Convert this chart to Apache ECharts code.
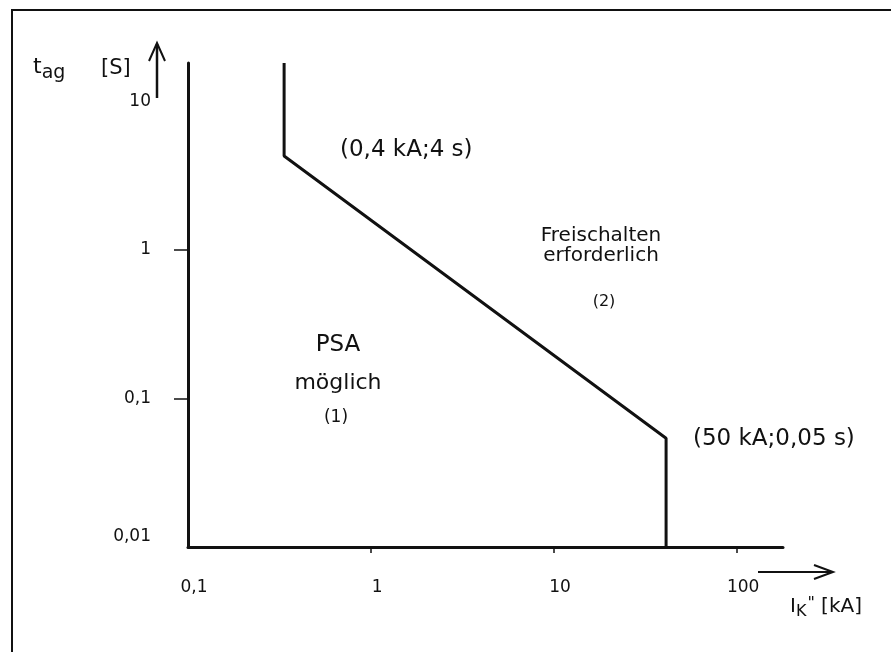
<!DOCTYPE html>
<html>
<head>
<meta charset="utf-8">
<script src="https://cdn.jsdelivr.net/npm/echarts@6/dist/echarts.min.js"></script>
<style>
  html, body { margin: 0; padding: 0; background: #fff; }
  #chart { width: 891px; height: 652px; }
</style>
</head>
<body>
<div id="chart"></div>
<script>
// Grenzkurve: Kurzschlussstrom Ik" [kA] gegen Abschaltzeit tag [s]
const currentKA = [0.335, 0.335, 40.9, 40.9]
const timeS = [18.2, 4.3, 0.054, 0.01]

// Achsenbeschriftung
const xTickValues = [1, 10, 100]
const xLabelValues = [0.1, 1, 10, 100]
const yTickValues = [0.1, 1]
const yLabelValues = [0.01, 0.1, 1, 10]

const FONT = '"DejaVu Sans", sans-serif'
const fmt = v => String(v).replace('.', ',')

const chart = echarts.init(document.getElementById('chart'))

const option = {
  backgroundColor: '#fff',
  animation: false,
  grid: { left: 188, right: 108, top: 63, bottom: 105 },
  xAxis: {
    type: 'log',
    min: 0.1,
    max: 178,
    axisLine: { lineStyle: { color: '#111', width: 3 } },
    axisTick: { show: true, customValues: xTickValues, length: 6, lineStyle: { color: '#111', width: 1.5 } },
    axisLabel: {
      customValues: xLabelValues,
      formatter: fmt,
      margin: 32,
      padding: [0, 0, 0, 12],
      color: '#111',
      fontSize: 17,
      fontFamily: FONT
    },
    splitLine: { show: false },
    minorTick: { show: false }
  },
  yAxis: {
    type: 'log',
    min: 0.01,
    max: 18.2,
    axisLine: { lineStyle: { color: '#111', width: 3 } },
    axisTick: { show: true, customValues: yTickValues, length: 14, lineStyle: { color: '#111', width: 1.5 } },
    axisLabel: {
      customValues: yLabelValues,
      formatter: v => (v === 0.01 ? '{low|' + fmt(v) + '}' : fmt(v)),
      rich: { low: { fontSize: 17, fontFamily: FONT, color: '#111', padding: [0, 0, 20, 0] } },
      margin: 37,
      color: '#111',
      fontSize: 17,
      fontFamily: FONT
    },
    splitLine: { show: false }
  },
  series: [
    {
      type: 'line',
      data: currentKA.map((x, i) => [x, timeS[i]]),
      symbol: 'none',
      lineStyle: { color: '#111', width: 3 }
    }
  ],
  graphic: [
    // Rahmen
    { type: 'rect', shape: { x: 12, y: 10, width: 900, height: 660 }, style: { fill: 'none', stroke: '#111', lineWidth: 2 } },
    // y-Achsentitel
    {
      type: 'text', left: 33, top: 56,
      style: {
        text: '{t|t}{s|ag}',
        rich: {
          t: { fontSize: 22, fontFamily: FONT, fill: '#111' },
          s: { fontSize: 19, fontFamily: FONT, fill: '#111', padding: [12, 0, 0, 0] }
        }
      }
    },
    { type: 'text', left: 101, top: 58, style: { text: '[S]', fontSize: 21, fontFamily: FONT, fill: '#111' } },
    // Pfeil nach oben
    { type: 'line', shape: { x1: 157, y1: 98, x2: 157, y2: 44 }, style: { stroke: '#111', lineWidth: 2.5 } },
    { type: 'polyline', shape: { points: [[149, 61], [157, 43], [165, 61]] }, style: { stroke: '#111', lineWidth: 2, fill: 'none' } },
    // Pfeil nach rechts
    { type: 'line', shape: { x1: 758, y1: 572, x2: 832, y2: 572 }, style: { stroke: '#111', lineWidth: 2 } },
    { type: 'polyline', shape: { points: [[814, 565], [833, 572], [814, 579]] }, style: { stroke: '#111', lineWidth: 2, fill: 'none' } },
    // x-Achsentitel
    {
      type: 'text', left: 790, top: 596,
      style: {
        text: '{i|I}{k|K}{q|"}{i| [kA]}',
        rich: {
          i: { fontSize: 20, fontFamily: FONT, fill: '#111' },
          k: { fontSize: 16, fontFamily: FONT, fill: '#111', padding: [10, 0, 0, 0] },
          q: { fontSize: 16, fontFamily: FONT, fill: '#111', padding: [0, 0, 6, 1] }
        }
      }
    },
    // Beschriftungen
    { type: 'text', left: 340, top: 139, style: { text: '(0,4 kA;4 s)', fontSize: 23, fontFamily: FONT, fill: '#111' } },
    { type: 'text', left: 693, top: 428, style: { text: '(50 kA;0,05 s)', fontSize: 23, fontFamily: FONT, fill: '#111' } },
    { type: 'text', x: 601, y: 226, style: { text: 'Freischalten\nerforderlich', align: 'center', fontSize: 20, lineHeight: 20, fontFamily: FONT, fill: '#111' } },
    { type: 'text', x: 604, y: 294, style: { text: '(2)', align: 'center', fontSize: 16, fontFamily: FONT, fill: '#111' } },
    { type: 'text', x: 338, y: 334, style: { text: 'PSA', align: 'center', fontSize: 23, fontFamily: FONT, fill: '#111' } },
    { type: 'text', x: 338, y: 372, style: { text: 'möglich', align: 'center', fontSize: 22, fontFamily: FONT, fill: '#111' } },
    { type: 'text', x: 336, y: 409, style: { text: '(1)', align: 'center', fontSize: 17, fontFamily: FONT, fill: '#111' } }
  ]
}

chart.setOption(option)
</script>
</body>
</html>
